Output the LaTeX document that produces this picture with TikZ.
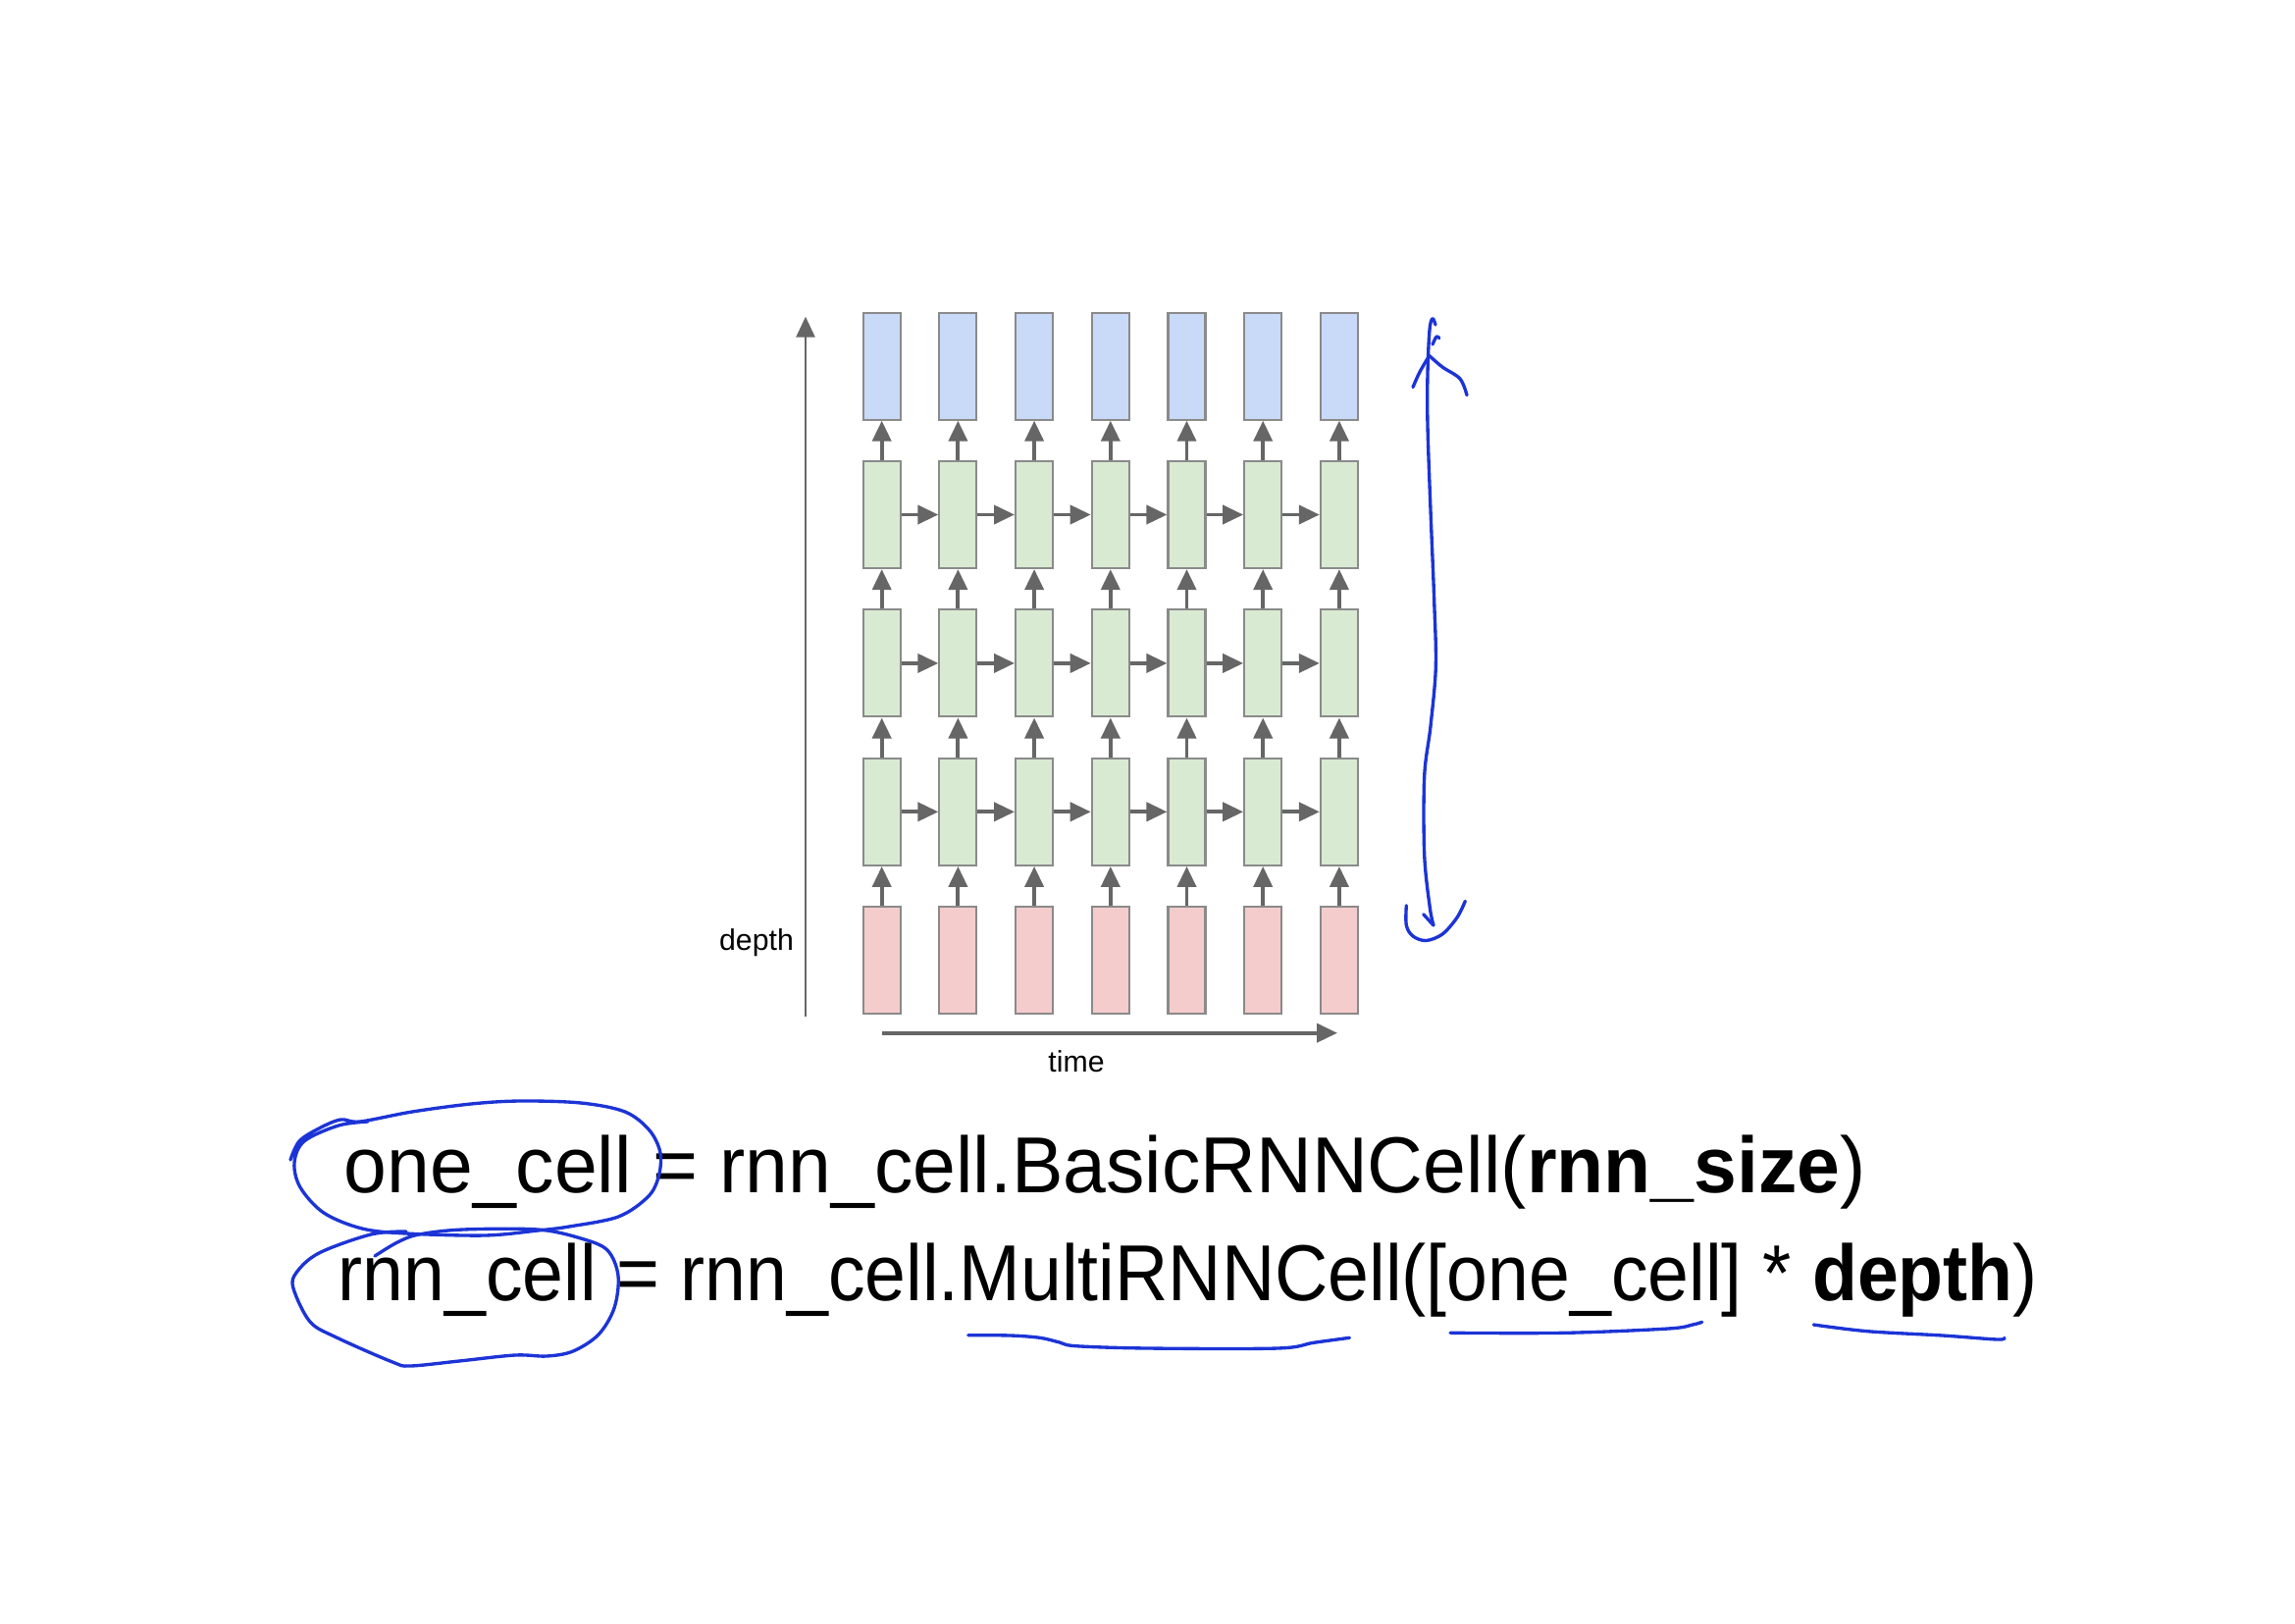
\documentclass[tikz,border=0pt]{standalone}
\usepackage{fontspec}
\setmainfont{Liberation Sans}
\usepackage{graphicx}
\usetikzlibrary{arrows.meta}
\definecolor{outblue}{HTML}{C9DAF8}
\definecolor{hidgreen}{HTML}{D9EAD3}
\definecolor{inred}{HTML}{F4CCCC}
\definecolor{cellgray}{HTML}{8A8A8A}
\definecolor{flowgray}{HTML}{666666}
\definecolor{penblue}{RGB}{28,52,214}

\begin{document}
\begin{tikzpicture}[x=0.01cm, y=-0.01cm]
        \tikzset{cell/.style = {draw = cellgray, line width = 0.6pt,
                minimum width = 0.38cm, minimum height = 1.09cm, inner sep = 0pt},
            flow/.style = {draw = flowgray, line width = 1.1pt,
                -{Triangle[width = 0.19cm, length = 0.21cm]}},
            axis/.style = {flow, line width = 0.8pt},
            hand/.style = {draw = penblue, line width = 0.95pt,
                line cap = round, line join = round}}
        \useasboundingbox (0,0) rectangle (2339,1654);
        % cells: row 0 input, rows 1-3 hidden, row 4 output
        \foreach \r/\c in {0/inred, 1/hidgreen, 2/hidgreen, 3/hidgreen, 4/outblue}
            \foreach \i in {1,...,7}
                \node[cell, fill = \c] (c\r-\i) at ({898.7+77.7*(\i-1)}, {978.7-151.4*\r}) {};
        \foreach \r in {0,...,3} {
            \pgfmathtruncatemacro{\rr}{\r+1}
            \foreach \i in {1,...,7}
                \draw[flow] (c\r-\i.north) -- (c\rr-\i.south);
        }
        \foreach \r in {1,2,3}
            \foreach \i in {1,...,6} {
                \pgfmathtruncatemacro{\j}{\i+1}
                \draw[flow] (c\r-\i.east) -- (c\r-\j.west);
            }
        % axes
        \coordinate (depthbot) at (821,1036);
        \coordinate (depthtop) at (821,322.7);
        \coordinate (timebeg) at (899,1052.7);
        \coordinate (timeend) at (1363,1052.7);
        \draw[axis] (depthbot) -- (depthtop);
        \draw[flow] (timebeg) -- (timeend);
        \node[font = \fontsize{8.6}{10}\selectfont] (depthlbl) at (771,961) {depth};
        \node[font = \fontsize{8.6}{10}\selectfont] (timelbl) at (1097,1082) {time};
        % code lines
        \node[anchor = base west, inner sep = 0pt, font = \fontsize{23}{28}\selectfont] (line1) at (350,1215)
            {\resizebox{15.5cm}{\height}{one\_cell = rnn\_cell.BasicRNNCell(\textbf{rnn\_size})}};
        \node[anchor = base west, inner sep = 0pt, font = \fontsize{23}{28}\selectfont] (line2) at (344,1325)
            {\resizebox{17.31cm}{\height}{rnn\_cell = rnn\_cell.MultiRNNCell([one\_cell] * \textbf{depth})}};
        % pen marks
        \draw[hand] plot[smooth, tension = 0.55] coordinates {(1463,331) (1460,324.6) (1457,336) (1455,380)
            (1455,434) (1458,520) (1461.7,612.5) (1463.3,679.5) (1458,740) (1451.7,791) (1451.7,871)
            (1457.3,925) (1461,943)};
        \draw[hand] plot[smooth, tension = 0.55] coordinates {(1466.7,344.6) (1464,343) (1460,351)};
        \draw[hand] plot[smooth, tension = 0.55] coordinates {(1456.7,362.5) (1447,379) (1440,394.6)};
        \draw[hand] plot[smooth, tension = 0.55] coordinates {(1456.7,362.5) (1470,374) (1488,386) (1495,402.7)};
        \draw[hand] (1450.7,931.7) -- (1461,943);
        \draw[hand] plot[smooth, tension = 0.55] coordinates {(1433.3,922.8) (1433.3,942.9) (1440,954)
            (1453.3,958.5) (1470,952) (1485,935) (1493.3,918.3)};
        \draw[hand] plot[smooth, tension = 0.55] coordinates {(296,1182) (305,1163) (325,1150) (347,1141)
            (367,1143) (420,1133) (480,1125) (530,1122) (592,1124) (637,1133) (662,1152) (673,1175)
            (671,1200) (660,1220) (630,1240) (580,1250) (548,1254) (494,1259) (414,1257) (369,1252)
            (330,1236) (306,1210) (300,1185) (310,1163) (345,1147) (375,1143)};
        \draw[hand] plot[smooth, tension = 0.55] coordinates {(382,1280) (405,1266) (427,1258) (472,1253)
            (548,1253) (592,1262) (619,1274) (630,1300) (626,1333) (610,1360) (584,1377) (557,1382)
            (525,1381) (468,1387) (418,1392) (400,1388) (343,1363) (316,1347) (299,1313) (302,1297)
            (325,1277) (378,1258) (414,1255)};
        \draw[hand] plot[smooth, tension = 0.55] coordinates {(986.7,1360.7) (1030,1361) (1060,1363.3)
            (1080,1368) (1096.7,1371.7) (1170,1374) (1302,1374) (1338.7,1368.3) (1375.4,1363.3)};
        \draw[hand] plot[smooth, tension = 0.55] coordinates {(1478,1358.3) (1595,1358.3) (1700,1354)
            (1725,1350) (1734.7,1347.3)};
        \draw[hand] plot[smooth, tension = 0.55] coordinates {(1848.4,1350) (1903.4,1356.7) (1980,1361)
            (2035.4,1365) (2042.8,1363.3)};
    \end{tikzpicture}
\end{document}
